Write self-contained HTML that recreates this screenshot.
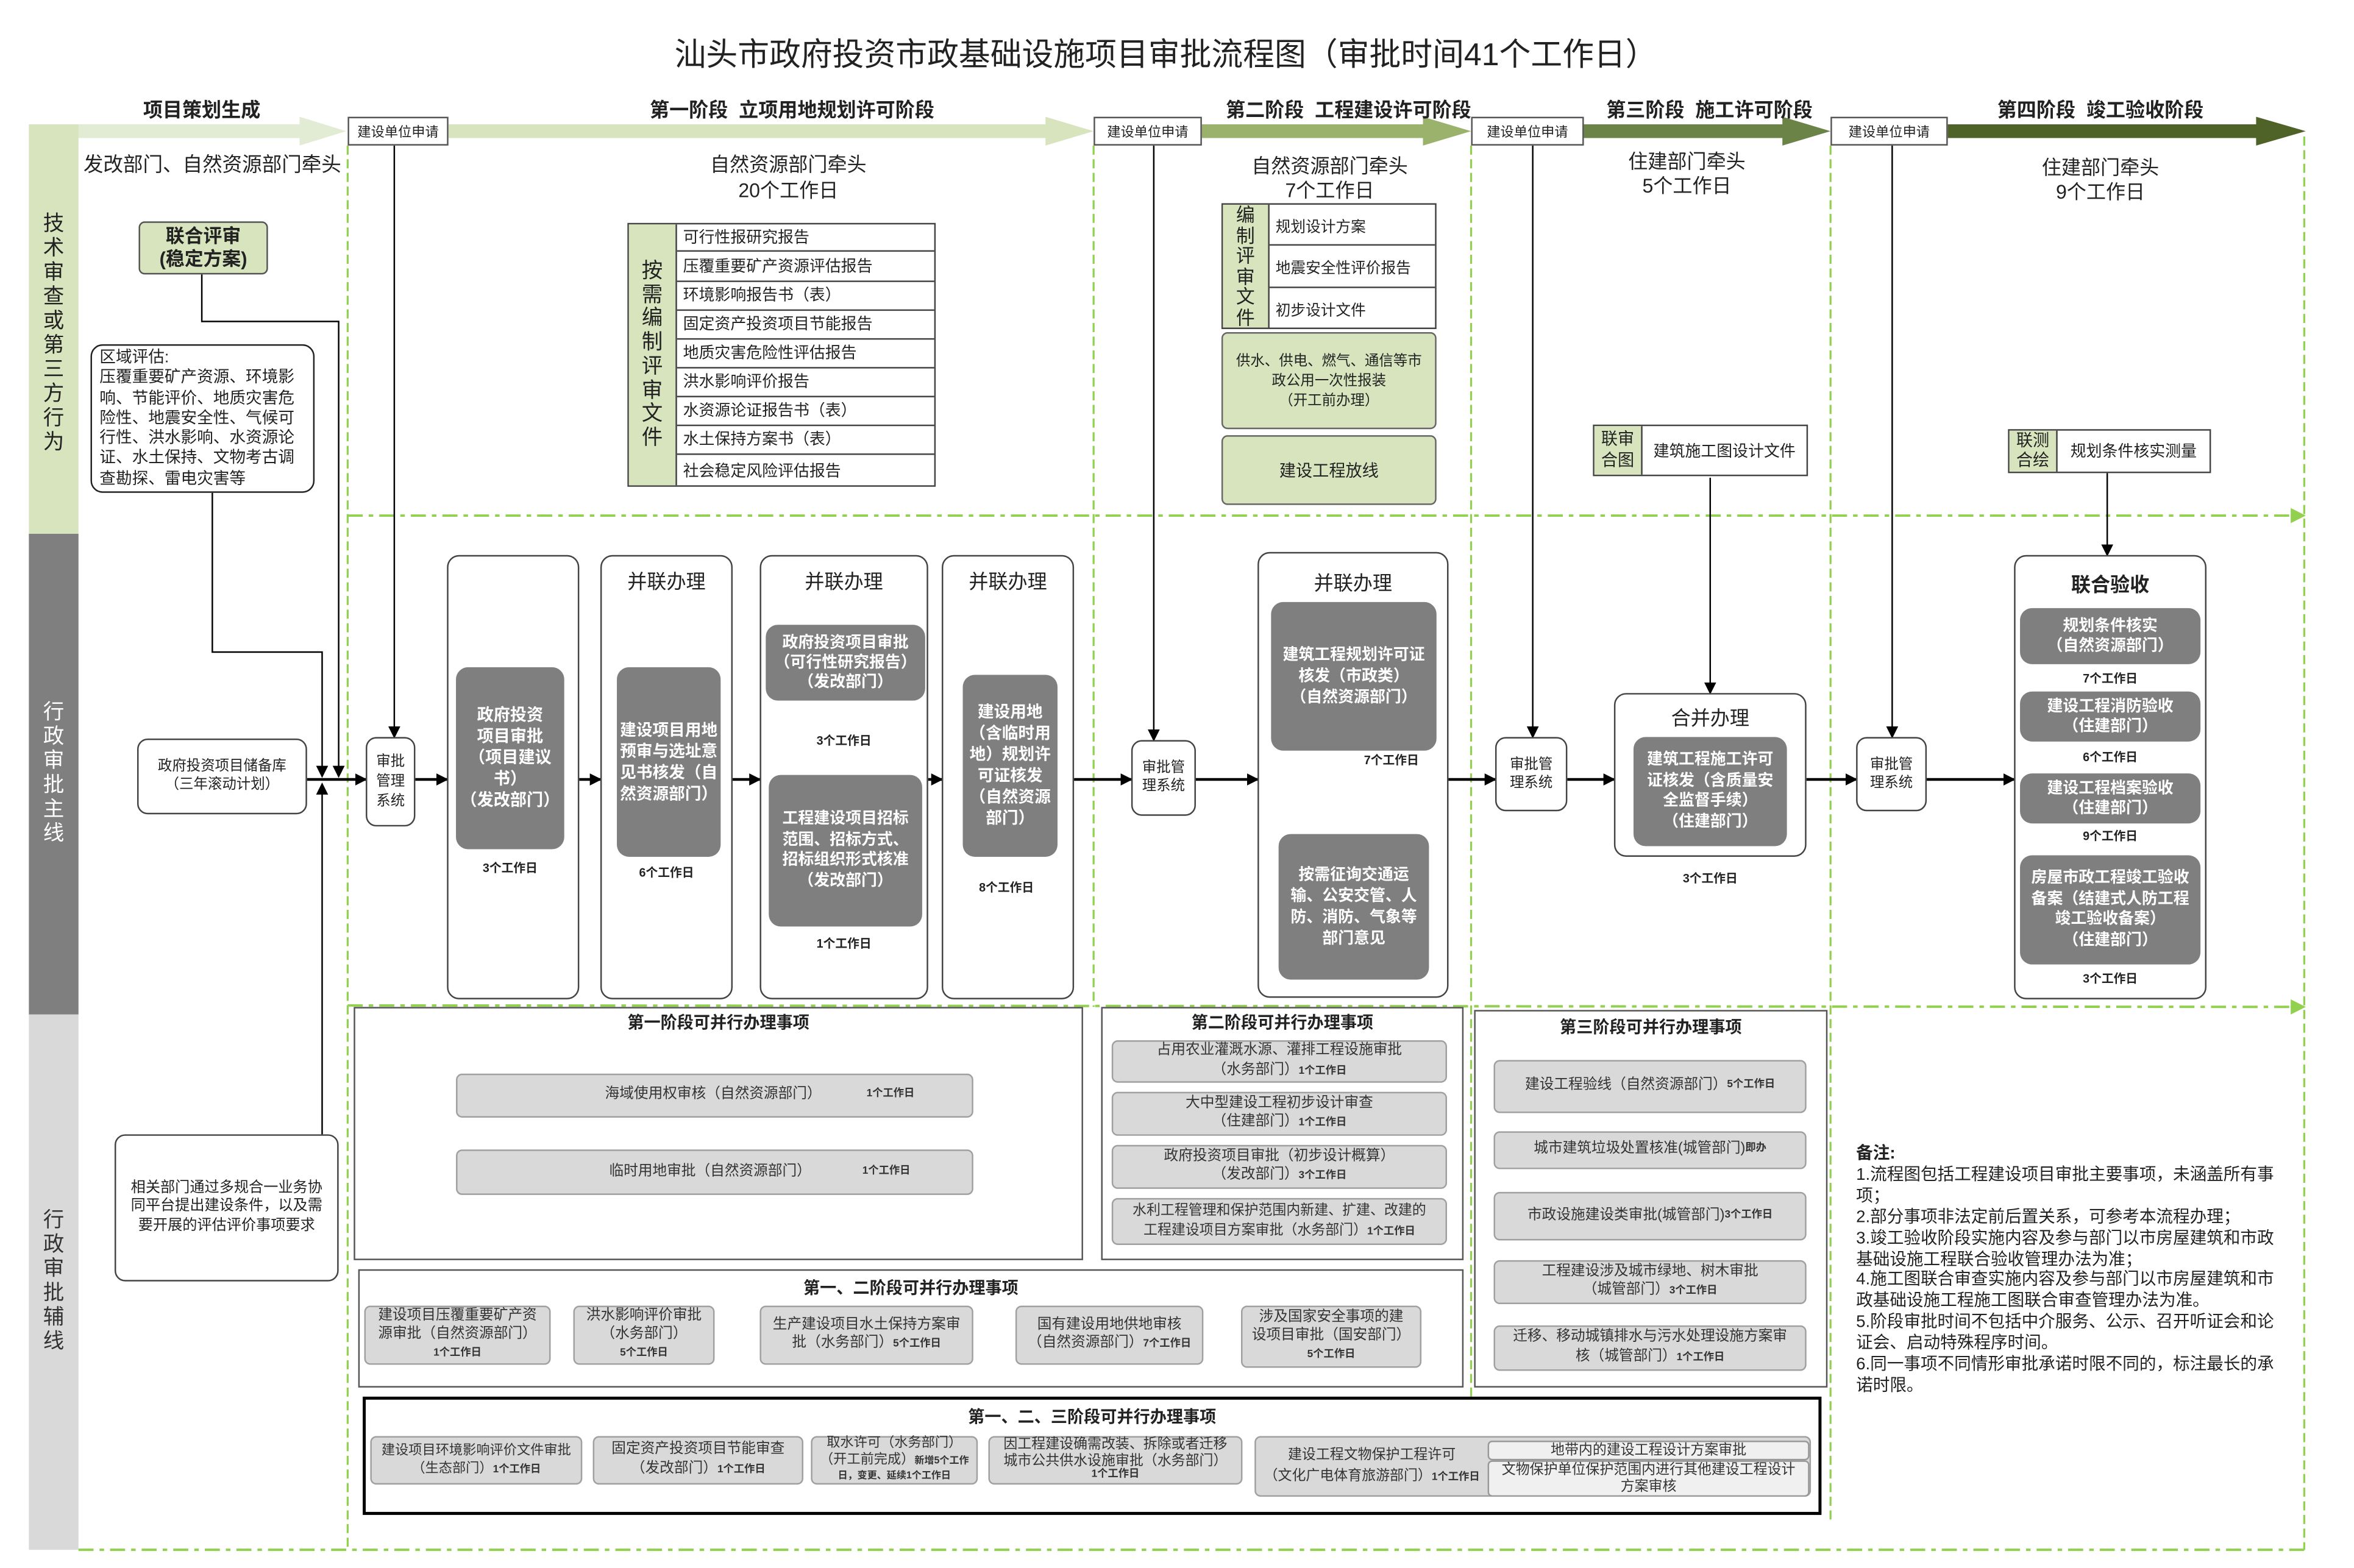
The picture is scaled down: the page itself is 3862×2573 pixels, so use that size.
<!DOCTYPE html>
<html><head><meta charset="utf-8">
<style>
html,body{margin:0;padding:0;background:#fff;overflow:hidden;width:3862px;height:2572px}
#c{position:absolute;left:-2.5px;top:0;width:1552px;height:1034px;transform:scale(2.4673,2.4884);transform-origin:0 0;font-family:"Liberation Sans","Noto Sans CJK SC",sans-serif;color:#222}
.a{position:absolute;box-sizing:border-box}
.f{position:absolute;box-sizing:border-box;display:flex;align-items:center;justify-content:center;text-align:center;flex-direction:column}
.t{position:absolute;white-space:nowrap;text-align:center}
.gray{background:#7f7f7f;color:#fff;border-radius:8px;font-weight:bold;font-size:11px;line-height:14px}
.col{border:1px solid #444;border-radius:8px;background:#fff}
.lg{background:#d9d9d9;border:1px solid #a0a0a0;border-radius:4px;font-size:9.6px;line-height:12.5px;color:#333}
.wd{font-size:7px;font-weight:bold}
.days{position:absolute;font-size:8px;font-weight:bold;white-space:nowrap;transform:translateX(-50%)}
.sq{border:1px solid #444;background:#fff;border-radius:7px;font-size:9.5px;line-height:12px}
.app{border:1px solid #555;background:#fff;font-size:9px;display:flex;align-items:center;justify-content:center}
.tb{border:1px solid #444;background:#fff}
.row{position:absolute;left:0;right:0;border-bottom:1px solid #444;font-size:10.5px;padding-left:4px;display:flex;align-items:center;box-sizing:border-box}
</style></head><body><div id="c">

<svg class="a" style="left:0;top:0" width="1552" height="1034" viewBox="0 0 1552 1034">
<defs>
<marker id="ah" markerWidth="8" markerHeight="8" refX="7" refY="4" orient="auto" markerUnits="userSpaceOnUse"><path d="M0,0 L8,4 L0,8 z" fill="#000"/></marker>
</defs>
<polygon points="20,82 200,82 200,77 231,86.5 200,96 200,91 20,91" fill="#e2ebd4"/>
<polygon points="299,82 696,82 696,77 728,86.5 696,96 696,91 299,91" fill="#d7e4bd"/>
<polygon points="800,82 947,82 947,77 979,86.5 947,96 947,91 800,91" fill="#9bb26c"/>
<polygon points="1054,82 1186,82 1186,77 1218,86.5 1186,96 1186,91 1054,91" fill="#6b8347"/>
<polygon points="1296,82 1501,82 1501,77 1534,86.5 1501,96 1501,91 1296,91" fill="#4f6228"/>
<rect x="20" y="82" width="33" height="270" fill="#d7e4bd"/>
<rect x="20" y="352" width="33" height="317" fill="#7f7f7f"/>
<rect x="20" y="669" width="33" height="353" fill="#d9d9d9"/>
<g stroke="#92d050" stroke-width="1.3" fill="none">
<line x1="232" y1="96" x2="232" y2="1022" stroke-dasharray="6 3"/>
<line x1="728" y1="96" x2="728" y2="664" stroke-dasharray="6 3"/>
<line x1="979" y1="96" x2="979" y2="925" stroke-dasharray="6 3"/>
<line x1="1218" y1="96" x2="1218" y2="1003" stroke-dasharray="6 3"/>
<line x1="1533" y1="90" x2="1533" y2="1022" stroke-dasharray="6 3"/>
<line x1="232" y1="340" x2="1526" y2="340" stroke-dasharray="10 4 3 4" stroke-width="1.6"/>
<line x1="232" y1="663" x2="1526" y2="664" stroke-dasharray="10 4 3 4" stroke-width="1.6"/>
<line x1="53" y1="1022" x2="1533" y2="1022" stroke-dasharray="10 4 3 4" stroke-width="1.6"/>
</g>
<polygon points="1524,335 1534,340 1524,345" fill="#92d050"/>
<polygon points="1524,659 1534,664 1524,669" fill="#92d050"/>
<g stroke="#000" fill="none" stroke-width="1">
<line x1="263" y1="96" x2="263" y2="486" marker-end="url(#ah)"/>
<line x1="768" y1="96" x2="768" y2="488" marker-end="url(#ah)"/>
<line x1="1020" y1="96" x2="1020" y2="486" marker-end="url(#ah)"/>
<line x1="1259" y1="96" x2="1259" y2="486" marker-end="url(#ah)"/>
<polyline points="135,181 135,212 226,212 226,512" marker-end="url(#ah)"/>
<polyline points="142,325 142,430 215,430 215,512" marker-end="url(#ah)"/>
<line x1="215" y1="748" x2="215" y2="517" marker-end="url(#ah)"/>
<line x1="901" y1="495" x2="901" y2="550" marker-end="url(#ah)"/>
<line x1="1138" y1="315" x2="1138" y2="457" marker-end="url(#ah)"/>
<line x1="1402" y1="312" x2="1402" y2="366" marker-end="url(#ah)"/>
</g>
<g stroke="#000" fill="none" stroke-width="1.8">
<line x1="205" y1="514" x2="244" y2="514" marker-end="url(#ah)"/>
<line x1="277" y1="514" x2="298" y2="514" marker-end="url(#ah)"/>
<line x1="386" y1="514" x2="400" y2="514" marker-end="url(#ah)"/>
<line x1="488" y1="514" x2="506" y2="514" marker-end="url(#ah)"/>
<line x1="618" y1="514" x2="627" y2="514" marker-end="url(#ah)"/>
<line x1="715" y1="514" x2="753" y2="514" marker-end="url(#ah)"/>
<line x1="796" y1="514" x2="837" y2="514" marker-end="url(#ah)"/>
<line x1="964" y1="514" x2="995" y2="514" marker-end="url(#ah)"/>
<line x1="1043" y1="514" x2="1074" y2="514" marker-end="url(#ah)"/>
<line x1="1202" y1="514" x2="1235" y2="514" marker-end="url(#ah)"/>
<line x1="1282" y1="514" x2="1340" y2="514" marker-end="url(#ah)"/>
</g>
</svg>

<div class="t" style="left:0;width:1552px;top:24px;font-size:21px;line-height:26px">汕头市政府投资市政基础设施项目审批流程图（审批时间41个工作日）</div>
<div class="t" style="left:60px;width:150px;top:62px;font-size:13px;font-weight:bold">项目策划生成</div>
<div class="t" style="left:400px;width:255px;top:62px;font-size:13px;font-weight:bold">第一阶段&nbsp;&nbsp;立项用地规划许可阶段</div>
<div class="t" style="left:800px;width:195px;top:62px;font-size:13px;font-weight:bold">第二阶段&nbsp;&nbsp;工程建设许可阶段</div>
<div class="t" style="left:1050px;width:175px;top:62px;font-size:13px;font-weight:bold">第三阶段&nbsp;&nbsp;施工许可阶段</div>
<div class="t" style="left:1310px;width:175px;top:62px;font-size:13px;font-weight:bold">第四阶段&nbsp;&nbsp;竣工验收阶段</div>

<div class="a app" style="left:232px;top:77px;width:67px;height:19px">建设单位申请</div>
<div class="a app" style="left:728px;top:77px;width:72px;height:19px">建设单位申请</div>
<div class="a app" style="left:979px;top:77px;width:75px;height:19px">建设单位申请</div>
<div class="a app" style="left:1218px;top:77px;width:78px;height:19px">建设单位申请</div>

<div class="t" style="left:20px;width:33px;top:139px;font-size:14px;line-height:16px">技<br>术<br>审<br>查<br>或<br>第<br>三<br>方<br>行<br>为</div>
<div class="t" style="left:20px;width:33px;top:461px;font-size:14px;line-height:16px;color:#fff">行<br>政<br>审<br>批<br>主<br>线</div>
<div class="t" style="left:20px;width:33px;top:796px;font-size:14px;line-height:16px;color:#333">行<br>政<br>审<br>批<br>辅<br>线</div>

<div class="t" style="left:53px;width:178px;top:98px;font-size:13.2px">发改部门、自然资源部门牵头</div>
<div class="f" style="left:93px;top:146px;width:86px;height:35px;background:#d7e4bd;border:1px solid #555;border-radius:4px;font-weight:bold;font-size:12.5px;line-height:15px">联合评审<br>(稳定方案)</div>
<div class="a" style="left:61px;top:227px;width:149px;height:98px;border:1.5px solid #222;border-radius:8px;font-size:10.8px;line-height:13.3px;padding:2px 0 0 5px">区域评估:<br>压覆重要矿产资源、环境影<br>响、节能评价、地质灾害危<br>险性、地震安全性、气候可<br>行性、洪水影响、水资源论<br>证、水土保持、文物考古调<br>查勘探、雷电灾害等</div>

<div class="f sq" style="left:92px;top:487px;width:113px;height:50px;font-size:9.5px">政府投资项目储备库<br>（三年滚动计划）</div>
<div class="f sq" style="left:244px;top:486px;width:33px;height:59px;font-size:9.5px;line-height:13px">审批<br>管理<br>系统</div>
<div class="f sq" style="left:77px;top:748px;width:149px;height:97px;border-width:1.5px;font-size:9.8px;line-height:12.2px">相关部门通过多规合一业务协<br>同平台提出建设条件，以及需<br>要开展的评估评价事项要求</div>

<div class="t" style="left:440px;width:170px;top:100px;font-size:13px;line-height:17px">自然资源部门牵头<br>20个工作日</div>
<div class="a tb" style="left:418px;top:147px;width:205px;height:174px">
 <div class="a" style="left:0;top:0;width:32px;height:100%;background:#d7e4bd;border-right:1px solid #444;font-size:14px;line-height:15.7px;text-align:center;padding-top:23px">按<br>需<br>编<br>制<br>评<br>审<br>文<br>件</div>
 <div class="a" style="left:32px;top:0;right:0;bottom:0">
  <div class="row" style="top:0;height:18.4px">可行性报研究报告</div>
  <div class="row" style="top:18.4px;height:19.6px">压覆重要矿产资源评估报告</div>
  <div class="row" style="top:38px;height:18.7px">环境影响报告书（表）</div>
  <div class="row" style="top:56.7px;height:18.9px">固定资产投资项目节能报告</div>
  <div class="row" style="top:75.6px;height:19.2px">地质灾害危险性评估报告</div>
  <div class="row" style="top:94.8px;height:18.9px">洪水影响评价报告</div>
  <div class="row" style="top:113.7px;height:19.1px">水资源论证报告书（表）</div>
  <div class="row" style="top:132.8px;height:19px">水土保持方案书（表）</div>
  <div class="row" style="top:151.8px;height:22px;border-bottom:none">社会稳定风险评估报告</div>
 </div>
</div>

<div class="t" style="left:810px;width:150px;top:102px;font-size:13px;line-height:16px">自然资源部门牵头<br>7个工作日</div>
<div class="a tb" style="left:813px;top:134px;width:143px;height:83px">
 <div class="a" style="left:0;top:0;width:31px;height:100%;background:#d7e4bd;border-right:1px solid #444;font-size:12.5px;line-height:13.5px;text-align:center;padding-top:1px">编<br>制<br>评<br>审<br>文<br>件</div>
 <div class="a" style="left:31px;top:0;right:0;bottom:0">
  <div class="row" style="top:0;height:27px;font-size:10px">规划设计方案</div>
  <div class="row" style="top:27px;height:28px;font-size:10px">地震安全性评价报告</div>
  <div class="row" style="top:55px;height:27px;font-size:10px;border-bottom:none">初步设计文件</div>
 </div>
</div>
<div class="f" style="left:813px;top:219px;width:143px;height:64px;background:#d7e4bd;border:1px solid #666;border-radius:4px;font-size:9.5px;line-height:13px">供水、供电、燃气、通信等市<br>政公用一次性报装<br>（开工前办理）</div>
<div class="f" style="left:813px;top:287px;width:143px;height:46px;background:#d7e4bd;border:1px solid #666;border-radius:4px;font-size:11px">建设工程放线</div>

<div class="t" style="left:1060px;width:125px;top:99px;font-size:13px;line-height:16px">住建部门牵头<br>5个工作日</div>
<div class="a tb" style="left:1060px;top:280px;width:143px;height:34px">
 <div class="f" style="left:0;top:0;width:32px;height:100%;background:#d7e4bd;border-right:1px solid #444;font-size:11px;line-height:14px">联审<br>合图</div>
 <div class="f" style="left:32px;top:0;right:0;height:100%;font-size:10.5px">建筑施工图设计文件</div>
</div>
<div class="t" style="left:1335px;width:125px;top:103px;font-size:13px;line-height:16px">住建部门牵头<br>9个工作日</div>
<div class="a tb" style="left:1336px;top:283px;width:135px;height:29px">
 <div class="f" style="left:0;top:0;width:32px;height:100%;background:#d7e4bd;border-right:1px solid #444;font-size:11px;line-height:13px">联测<br>合绘</div>
 <div class="f" style="left:32px;top:0;right:0;height:100%;font-size:10.5px">规划条件核实测量</div>
</div>

<div class="a col" style="left:298px;top:366px;width:88px;height:293px"></div>
<div class="f gray" style="left:304px;top:440px;width:72px;height:120px">政府投资<br>项目审批<br>（项目建议<br>书）<br>（发改部门）</div>
<div class="days" style="left:340px;top:567px">3个工作日</div>

<div class="a col" style="left:400px;top:366px;width:88px;height:293px"></div>
<div class="t" style="left:400px;width:88px;top:373px;font-size:13px">并联办理</div>
<div class="f gray" style="left:411px;top:440px;width:69px;height:125px;font-size:10.8px">建设项目用地<br>预审与选址意<br>见书核发（自<br>然资源部门）</div>
<div class="days" style="left:444px;top:570px">6个工作日</div>

<div class="a col" style="left:506px;top:366px;width:112px;height:293px"></div>
<div class="t" style="left:506px;width:112px;top:373px;font-size:13px">并联办理</div>
<div class="f gray" style="left:510px;top:412px;width:106px;height:50px;font-size:10.5px;line-height:13px">政府投资项目审批<br>（可行性研究报告）<br>（发改部门）</div>
<div class="days" style="left:562px;top:483px">3个工作日</div>
<div class="f gray" style="left:512px;top:511px;width:102px;height:100px;font-size:10.5px;line-height:13.5px">工程建设项目招标<br>范围、招标方式、<br>招标组织形式核准<br>（发改部门）</div>
<div class="days" style="left:562px;top:617px">1个工作日</div>

<div class="a col" style="left:627px;top:366px;width:88px;height:293px"></div>
<div class="t" style="left:627px;width:88px;top:373px;font-size:13px">并联办理</div>
<div class="f gray" style="left:641px;top:445px;width:63px;height:120px;font-size:10.8px">建设用地<br>（含临时用<br>地）规划许<br>可证核发<br>（自然资源<br>部门）</div>
<div class="days" style="left:670px;top:580px">8个工作日</div>

<div class="f sq" style="left:753px;top:488px;width:43px;height:50px">审批管<br>理系统</div>

<div class="a col" style="left:837px;top:364px;width:127px;height:294px"></div>
<div class="t" style="left:837px;width:127px;top:374px;font-size:13px">并联办理</div>
<div class="f gray" style="left:846px;top:397px;width:110px;height:98px;font-size:10.5px;line-height:14px">建筑工程规划许可证<br>核发（市政类）<br>（自然资源部门）</div>
<div class="days" style="left:926px;top:496px">7个工作日</div>
<div class="f gray" style="left:851px;top:550px;width:100px;height:96px;font-size:10.5px;line-height:14px">按需征询交通运<br>输、公安交管、人<br>防、消防、气象等<br>部门意见</div>

<div class="f sq" style="left:995px;top:486px;width:48px;height:49px">审批管<br>理系统</div>

<div class="a col" style="left:1074px;top:457px;width:128px;height:108px"></div>
<div class="t" style="left:1074px;width:128px;top:463px;font-size:13px">合并办理</div>
<div class="f gray" style="left:1087px;top:486px;width:102px;height:72px;font-size:10.5px;line-height:13.5px">建筑工程施工许可<br>证核发（含质量安<br>全监督手续）<br>（住建部门）</div>
<div class="days" style="left:1138px;top:574px">3个工作日</div>

<div class="f sq" style="left:1235px;top:486px;width:47px;height:49px">审批管<br>理系统</div>

<div class="a col" style="left:1340px;top:366px;width:128px;height:293px"></div>
<div class="t" style="left:1340px;width:128px;top:375px;font-size:13px;font-weight:bold">联合验收</div>
<div class="f gray" style="left:1344px;top:401px;width:120px;height:37px;font-size:10.5px;line-height:13px">规划条件核实<br>（自然资源部门）</div>
<div class="days" style="left:1404px;top:442px">7个工作日</div>
<div class="f gray" style="left:1344px;top:456px;width:120px;height:33px;font-size:10.5px;line-height:13px">建设工程消防验收<br>（住建部门）</div>
<div class="days" style="left:1404px;top:494px">6个工作日</div>
<div class="f gray" style="left:1344px;top:510px;width:120px;height:33px;font-size:10.5px;line-height:13px">建设工程档案验收<br>（住建部门）</div>
<div class="days" style="left:1404px;top:546px">9个工作日</div>
<div class="f gray" style="left:1344px;top:564px;width:120px;height:72px;font-size:10.5px;line-height:13.5px">房屋市政工程竣工验收<br>备案（结建式人防工程<br>竣工验收备案）<br>（住建部门）</div>
<div class="days" style="left:1404px;top:640px">3个工作日</div>

<div class="a" style="left:236px;top:664px;width:485px;height:167px;border:1px solid #555;background:#fff"></div>
<div class="t" style="left:236px;width:485px;top:666px;font-size:11px;font-weight:bold">第一阶段可并行办理事项</div>
<div class="f lg" style="left:304px;top:708px;width:344px;height:29px;flex-direction:row"><span style="margin-left:60px">海域使用权审核（自然资源部门）</span><span class="wd" style="margin-left:30px">1个工作日</span></div>
<div class="f lg" style="left:304px;top:758px;width:344px;height:30px;flex-direction:row"><span style="margin-left:60px">临时用地审批（自然资源部门）</span><span class="wd" style="margin-left:34px">1个工作日</span></div>

<div class="a" style="left:733px;top:664px;width:241px;height:167px;border:1px solid #555;background:#fff"></div>
<div class="t" style="left:733px;width:241px;top:666px;font-size:11px;font-weight:bold">第二阶段可并行办理事项</div>
<div class="f lg" style="left:740px;top:686px;width:223px;height:28px">占用农业灌溉水源、灌排工程设施审批<span>（水务部门）<b class="wd">1个工作日</b></span></div>
<div class="f lg" style="left:740px;top:720px;width:223px;height:29px">大中型建设工程初步设计审查<span>（住建部门）<b class="wd">1个工作日</b></span></div>
<div class="f lg" style="left:740px;top:755px;width:223px;height:29px">政府投资项目审批（初步设计概算）<span>（发改部门）<b class="wd">3个工作日</b></span></div>
<div class="f lg" style="left:740px;top:790px;width:223px;height:31px;font-size:9.3px">水利工程管理和保护范围内新建、扩建、改建的<span>工程建设项目方案审批（水务部门）<b class="wd">1个工作日</b></span></div>

<div class="a" style="left:981px;top:666px;width:235px;height:249px;border:1px solid #555;background:#fff"></div>
<div class="t" style="left:981px;width:235px;top:669px;font-size:11px;font-weight:bold">第三阶段可并行办理事项</div>
<div class="f lg" style="left:994px;top:699px;width:208px;height:35px;flex-direction:row">建设工程验线（自然资源部门）<b class="wd">5个工作日</b></div>
<div class="f lg" style="left:994px;top:746px;width:208px;height:25px;flex-direction:row">城市建筑垃圾处置核准(城管部门)<b class="wd">即办</b></div>
<div class="f lg" style="left:994px;top:786px;width:208px;height:32px;flex-direction:row">市政设施建设类审批(城管部门)<b class="wd">3个工作日</b></div>
<div class="f lg" style="left:994px;top:831px;width:208px;height:29px">工程建设涉及城市绿地、树木审批<span>（城管部门）<b class="wd">3个工作日</b></span></div>
<div class="f lg" style="left:994px;top:874px;width:208px;height:30px">迁移、移动城镇排水与污水处理设施方案审<span>核（城管部门）<b class="wd">1个工作日</b></span></div>

<div class="a" style="left:239px;top:837px;width:735px;height:78px;border:1px solid #555;background:#fff"></div>
<div class="t" style="left:239px;width:735px;top:841px;font-size:11px;font-weight:bold">第一、二阶段可并行办理事项</div>
<div class="f lg" style="left:243px;top:861px;width:124px;height:39px">建设项目压覆重要矿产资<br>源审批（自然资源部门）<b class="wd">1个工作日</b></div>
<div class="f lg" style="left:382px;top:861px;width:94px;height:39px">洪水影响评价审批<br>（水务部门）<b class="wd">5个工作日</b></div>
<div class="f lg" style="left:506px;top:861px;width:142px;height:39px">生产建设项目水土保持方案审<span>批（水务部门）<b class="wd">5个工作日</b></span></div>
<div class="f lg" style="left:676px;top:861px;width:125px;height:39px">国有建设用地供地审核<span>（自然资源部门）<b class="wd">7个工作日</b></span></div>
<div class="f lg" style="left:826px;top:861px;width:120px;height:41px">涉及国家安全事项的建<br>设项目审批（国安部门）<b class="wd">5个工作日</b></div>

<div class="a" style="left:242px;top:921px;width:970px;height:78px;border:2px solid #000;background:#fff"></div>
<div class="t" style="left:242px;width:970px;top:926px;font-size:11px;font-weight:bold">第一、二、三阶段可并行办理事项</div>
<div class="f lg" style="left:247px;top:947px;width:141px;height:32px;font-size:9px">建设项目环境影响评价文件审批<span>（生态部门）<b class="wd">1个工作日</b></span></div>
<div class="f lg" style="left:395px;top:947px;width:140px;height:32px">固定资产投资项目节能审查<span>（发改部门）<b class="wd">1个工作日</b></span></div>
<div class="f lg" style="left:540px;top:947px;width:111px;height:32px;font-size:9px;line-height:10.5px">取水许可（水务部门）<span>（开工前完成）<b style="font-size:6.5px">新增5个工作</b></span><b style="font-size:6.5px">日，变更、延续1个工作日</b></div>
<div class="f lg" style="left:658px;top:947px;width:169px;height:32px;font-size:9.3px;line-height:10.5px">因工程建设确需改装、拆除或者迁移<br>城市公共供水设施审批（水务部门）<b class="wd">1个工作日</b></div>
<div class="a lg" style="left:835px;top:947px;width:370px;height:40px">
 <div class="f" style="left:0;top:0;width:154px;height:100%;font-size:9.3px;line-height:14px">建设工程文物保护工程许可<span>（文化广电体育旅游部门）<b class="wd">1个工作日</b></span></div>
 <div class="f" style="left:154px;top:2px;right:0;height:13px;background:#f0f0f0;border:1px solid #999;border-radius:3px;font-size:9.3px">地带内的建设工程设计方案审批</div>
 <div class="f" style="left:154px;top:15px;right:0;height:24px;background:#f0f0f0;border:1px solid #999;border-radius:3px;font-size:9.3px;line-height:11.5px">文物保护单位保护范围内进行其他建设工程设计<br>方案审核</div>
</div>

<div class="a" style="left:1235px;top:755px;font-size:11.2px;line-height:13.9px;white-space:nowrap;color:#222"><b>备注:</b><br>1.流程图包括工程建设项目审批主要事项，未涵盖所有事<br>项；<br>2.部分事项非法定前后置关系，可参考本流程办理；<br>3.竣工验收阶段实施内容及参与部门以市房屋建筑和市政<br>基础设施工程联合验收管理办法为准；<br>4.施工图联合审查实施内容及参与部门以市房屋建筑和市<br>政基础设施工程施工图联合审查管理办法为准。<br>5.阶段审批时间不包括中介服务、公示、召开听证会和论<br>证会、启动特殊程序时间。<br>6.同一事项不同情形审批承诺时限不同的，标注最长的承<br>诺时限。</div>

</div></body></html>
